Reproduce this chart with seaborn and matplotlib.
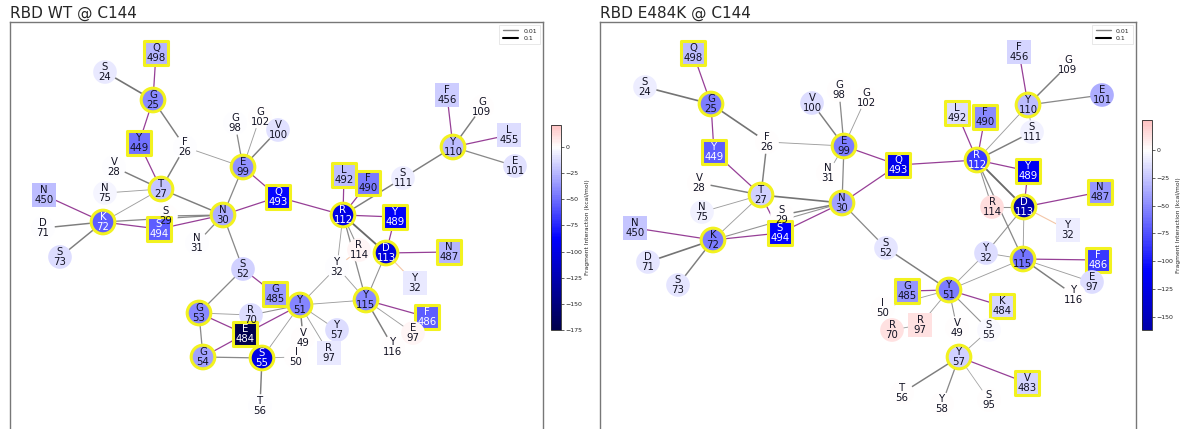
import re
import numpy as np
import pandas as pd
import matplotlib
matplotlib.use("Agg")
import matplotlib.pyplot as plt
from matplotlib.colors import Normalize, ListedColormap
from matplotlib.cm import ScalarMappable
from matplotlib.lines import Line2D
import seaborn as sns

# ---------------- RBD WT @ C144 ----------------
wt_res = ["Q498", "S24", "G25", "Y449", "F26", "G98", "G102", "V100", "E99", "V28",
          "T27", "N75", "N450", "Q493", "N30", "K72", "S29", "S494", "D71", "S73",
          "N31", "S52", "G485", "G53", "R70", "E484", "G54", "S55", "T56", "Y51",
          "V49", "I50", "Y57", "R97", "R112", "Y489", "R114", "D113", "N487", "Y32",
          "Y32L", "Y115", "F486", "E97", "Y116", "F456", "G109", "L455", "Y110", "E101",
          "S111", "L492", "F490"]
wt_energy = [-25, -8, -40, -48, -1, -1, 0, -10, -38, -1,
             -20, -3, -22, -85, -28, -55, 0, -55, -1, -12,
             -1, -15, -35, -40, -12, -175, -32, -100, -1, -42,
             0, 0, -12, -8, -100, -90, 4, -105, -25, -1,
             -8, -40, -55, 3, 0, -18, 0, -12, -22, -10,
             -6, -22, -46]
# layout of the network (pixel-like layout coordinates)
wt_x = [156, 105, 153, 139, 185, 235, 260, 278, 243, 114,
        161, 105, 44, 278, 223, 103, 166, 159, 43, 60,
        197, 243, 275, 199, 251, 245, 203, 262, 260, 300,
        303, 296, 337, 329, 343, 395, 359, 386, 449, 337,
        415, 366, 427, 413, 393, 447, 482, 509, 453, 515,
        403, 344, 368]
wt_y = [53, 72, 100, 143, 147, 123, 117, 130, 167, 167,
        189, 193, 195, 197, 215, 222, 216, 229, 228, 257,
        243, 269, 294, 313, 315, 334, 357, 358, 406, 305,
        338, 357, 330, 353, 215, 217, 250, 253, 252, 267,
        283, 300, 317, 333, 347, 95, 107, 135, 147, 166,
        178, 175, 183]
wt_interface = ["Q498", "G25", "Y449", "E99", "T27", "Q493", "N30", "K72", "S494",
                "G485", "G53", "E484", "G54", "S55", "Y51", "R112", "Y489", "D113",
                "N487", "Y115", "F486", "Y110", "L492", "F490"]
wt_square = ["Q498", "Y449", "N450", "Q493", "S494", "G485", "E484", "R97", "Y489",
             "N487", "Y32L", "F486", "F456", "L455", "L492", "F490"]
wt_edges = [("Q498", "G25", .02), ("S24", "G25", .05), ("G25", "Y449", .02),
            ("G25", "F26", .04), ("Y449", "T27", .02), ("F26", "T27", .04),
            ("F26", "E99", .01), ("V28", "T27", .04), ("N75", "T27", .01),
            ("T27", "K72", .01), ("T27", "N30", .04), ("N450", "K72", .02),
            ("D71", "K72", .04), ("S73", "K72", .04), ("K72", "S494", .02),
            ("K72", "N30", .03), ("S29", "N30", .03), ("S494", "N30", .02),
            ("N31", "N30", .03), ("N30", "E99", .03), ("N30", "Q493", .02),
            ("N30", "S52", .03), ("G98", "E99", .03), ("G102", "E99", .01),
            ("V100", "E99", .04), ("E99", "Q493", .02), ("Q493", "R112", .02),
            ("R112", "L492", .02), ("R112", "F490", .02), ("R112", "S111", .04),
            ("S111", "Y110", .04), ("Y110", "F456", .02), ("Y110", "G109", .04),
            ("Y110", "L455", .02), ("Y110", "E101", .03), ("R112", "Y489", .02),
            ("R112", "D113", .06), ("R112", "R114", .02), ("R112", "Y32", .01),
            ("R112", "Y115", .03), ("Y489", "D113", .02), ("D113", "N487", .02),
            ("D113", "Y115", .02), ("Y32", "Y115", .01), ("Y32", "Y51", .01),
            ("Y115", "Y51", .01), ("Y115", "F486", .02), ("Y115", "E97", .01),
            ("Y115", "Y116", .04), ("S52", "G53", .03), ("S52", "G485", .03),
            ("G485", "Y51", .02), ("G53", "R70", .01), ("G53", "E484", .02),
            ("G53", "G54", .03), ("G54", "E484", .02), ("G54", "S55", .03),
            ("E484", "Y51", .02), ("R70", "Y51", .02), ("S55", "Y51", .01),
            ("S55", "T56", .04), ("S55", "I50", .01), ("Y51", "V49", .04),
            ("Y51", "Y57", .01), ("Y51", "R97", .01)]
wt_repulsive = [("D113", "Y32L"), ("R114", "Y32")]

# ---------------- RBD E484K @ C144 ----------------
mut_res = ["Q498", "S24", "G25", "Y449", "F26", "V100", "G98", "G102", "E99", "N31",
           "V28", "T27", "N30", "N75", "N450", "K72", "S29", "S494", "D71", "S73",
           "S52", "Q493", "R112", "L492", "F490", "S111", "Y110", "F456", "G109", "E101",
           "Y489", "N487", "R114", "D113", "Y32L", "Y32", "Y115", "F486", "E97", "Y116",
           "G485", "Y51", "K484", "I50", "R70", "R97", "V49", "S55", "Y57", "V483",
           "T56", "Y58", "S95"]
mut_energy = [-28, -8, -55, -70, 0, -15, 0, 0, -55, 0,
              0, -20, -40, -6, -25, -55, 0, -110, -12, -12,
              -12, -120, -85, -15, -50, -6, -28, -18, 0, -35,
              -115, -45, 15, -160, -8, -14, -60, -85, -15, 0,
              -45, -55, -18, 0, 12, 12, 0, -3, -20, -18,
              0, 0, 0]
mut_x = [693, 645, 711, 714, 767, 812, 839, 866, 844, 828,
         699, 761, 842, 702, 635, 713, 782, 780, 648, 678,
         886, 898, 977, 957, 985, 1032, 1028, 1019, 1068, 1102,
         1028, 1100, 992, 1024, 1068, 986, 1023, 1098, 1092, 1074,
         907, 949, 1002, 883, 892, 920, 957, 989, 959, 1027,
         902, 942, 989]
mut_y = [53, 87, 104, 152, 142, 103, 90, 98, 146, 173,
         183, 195, 203, 212, 228, 240, 215, 233, 262, 285,
         248, 165, 160, 113, 117, 132, 105, 52, 65, 95,
         171, 192, 207, 207, 230, 253, 259, 260, 282, 295,
         291, 290, 306, 308, 330, 325, 328, 330, 357, 383,
         393, 404, 400]
mut_interface = ["Q498", "G25", "Y449", "E99", "T27", "N30", "K72", "S494", "Q493",
                 "R112", "L492", "F490", "Y110", "Y489", "N487", "D113", "Y115",
                 "F486", "G485", "Y51", "K484", "Y57", "V483"]
mut_square = ["Q498", "Y449", "N450", "S494", "Q493", "L492", "F490", "F456", "Y489",
              "N487", "Y32L", "F486", "G485", "K484", "R97", "V483"]
mut_edges = [("Q498", "G25", .02), ("S24", "G25", .05), ("G25", "Y449", .02),
             ("G25", "F26", .05), ("F26", "E99", .01), ("F26", "T27", .04),
             ("Y449", "T27", .02), ("V28", "T27", .04), ("N75", "T27", .01),
             ("T27", "N30", .05), ("T27", "K72", .01), ("T27", "S494", .02),
             ("N450", "K72", .02), ("D71", "K72", .05), ("S73", "K72", .04),
             ("K72", "S494", .02), ("K72", "N30", .02), ("S29", "N30", .04),
             ("S494", "N30", .02), ("N30", "E99", .03), ("N31", "E99", .01),
             ("N30", "Q493", .02), ("N30", "S52", .03), ("V100", "E99", .04),
             ("G98", "E99", .03), ("G102", "E99", .01), ("E99", "Q493", .02),
             ("Q493", "R112", .02), ("R112", "L492", .02), ("R112", "F490", .02),
             ("R112", "Y110", .01), ("R112", "S111", .04), ("R112", "Y489", .02),
             ("R112", "D113", .06), ("R112", "R114", .02), ("R112", "Y115", .03),
             ("Y110", "F456", .02), ("Y110", "G109", .04), ("Y110", "E101", .03),
             ("Y110", "S111", .01), ("Y489", "D113", .02), ("D113", "N487", .02),
             ("D113", "R114", .02), ("D113", "Y115", .01), ("D113", "Y32", .02),
             ("Y32", "Y115", .01), ("Y32", "Y51", .01), ("Y115", "F486", .02),
             ("Y115", "E97", .01), ("Y115", "Y116", .04), ("Y115", "Y51", .01),
             ("S52", "Y51", .04), ("G485", "Y51", .02), ("I50", "Y51", .01),
             ("R97", "Y51", .01), ("V49", "Y51", .02), ("S55", "Y51", .02),
             ("K484", "Y51", .02), ("R70", "R97", .01), ("Y57", "S55", .01),
             ("Y57", "T56", .04), ("Y57", "Y58", .03), ("Y57", "V483", .02),
             ("Y57", "S95", .005)]
mut_repulsive = [("D113", "Y32L")]

W, H = 1181, 429
sns.set_theme(style="white")
plt.rcParams["font.family"] = ["DejaVu Sans"]


def resnum(r):
    return int(re.findall(r"\d+", r)[0])


def reslabel(r):
    m = re.match(r"([A-Z])(\d+)", r)
    return m.group(1) + "\n" + m.group(2)


def panel(fig, ax_rect, cax_rect, title, res, energy, xs, ys, interface, square,
          edges, repulsive, lim, lo, hi, ticks):
    ax = fig.add_axes(ax_rect)
    cax = fig.add_axes(cax_rect)
    full = plt.get_cmap("seismic")
    cmap = ListedColormap(full(np.linspace((lo + lim) / (2 * lim), (hi + lim) / (2 * lim), 256)))
    norm = Normalize(lo, hi)

    df = pd.DataFrame({"res": res, "energy": energy, "x": xs, "y": ys})
    df["shape"] = np.where(df["res"].isin(square), "sq", "ci")
    df["ring"] = df["res"].isin(interface)
    pos = {r: (x, y) for r, x, y in zip(df["res"], df["x"], df["y"])}

    # edges: purple = antibody-RBD, grey = within antibody (width ~ weight)
    for a, b, w in edges:
        (x1, y1), (x2, y2) = pos[a], pos[b]
        if resnum(a) >= 400 or resnum(b) >= 400:
            ax.plot([x1, x2], [y1, y2], color="#8b2a8b", lw=0.9, alpha=0.9, zorder=1)
        else:
            shade = max(0.15, 0.62 - 4.5 * w)
            ax.plot([x1, x2], [y1, y2], color=str(shade), lw=0.5 + 14 * w, alpha=0.9, zorder=1)
    for a, b in repulsive:
        (x1, y1), (x2, y2) = pos[a], pos[b]
        ax.plot([x1, x2], [y1, y2], color="#f3c6a8", lw=0.8, zorder=1)

    edgecol = [(0.95, 0.95, 0.12, 1) if r else (0, 0, 0, 0) for r in df["ring"]]
    lws = [2.2 if r else 0 for r in df["ring"]]
    sns.scatterplot(data=df, x="x", y="y", hue="energy", palette=cmap, hue_norm=norm,
                    style="shape", markers={"sq": "s", "ci": "o"}, s=290,
                    edgecolor=edgecol, linewidth=lws, legend=False, ax=ax, zorder=3)

    for r, e, x, y in zip(df["res"], df["energy"], df["x"], df["y"]):
        frac = (e + lim) / (2 * lim)
        tc = "white" if frac < 0.36 else "#111122"
        ax.text(x, y, reslabel(r), ha="center", va="center", fontsize=7.3,
                color=tc, linespacing=1.0, zorder=4)

    x0 = ax_rect[0] * W
    x1 = (ax_rect[0] + ax_rect[2]) * W
    ytop = H - (ax_rect[1] + ax_rect[3]) * H
    ybot = H - ax_rect[1] * H
    ax.set_xlim(x0, x1)
    ax.set_ylim(ybot, ytop)
    ax.set_xticks([])
    ax.set_yticks([])
    ax.set_xlabel("")
    ax.set_ylabel("")
    for sp in ax.spines.values():
        sp.set_color("#777777")
        sp.set_linewidth(1.0)
    ax.set_title(title, loc="left", fontsize=11, pad=3)

    handles = [Line2D([], [], color="grey", lw=1.0, label="0.01"),
               Line2D([], [], color="black", lw=1.5, label="0.1")]
    leg = ax.legend(handles=handles, loc="upper right", fontsize=4.5, handlelength=2.5,
                    borderpad=0.5, labelspacing=0.3, frameon=True, fancybox=False)
    leg.get_frame().set_edgecolor("#dddddd")
    leg.get_frame().set_linewidth(0.6)

    cb = fig.colorbar(ScalarMappable(norm=norm, cmap=cmap), cax=cax, ticks=ticks)
    cb.outline.set_linewidth(0.6)
    cb.ax.tick_params(labelsize=4.5, length=2, width=0.5, pad=1)
    cb.set_label("Fragment Interaction (kcal/mol)", fontsize=4.3, labelpad=2)
    return ax


fig = plt.figure(figsize=(W / 100, H / 100), dpi=100)

panel(fig, [10 / W, -2 / H, 533 / W, 409 / H], [551 / W, 99 / H, 10 / W, 205 / H],
      "RBD WT @ C144", wt_res, wt_energy, wt_x, wt_y, wt_interface, wt_square,
      wt_edges, wt_repulsive, 175, -175, 21, [0, -25, -50, -75, -100, -125, -150, -175])

panel(fig, [600 / W, -2 / H, 536 / W, 409 / H], [1142 / W, 99 / H, 10 / W, 210 / H],
      "RBD E484K @ C144", mut_res, mut_energy, mut_x, mut_y, mut_interface, mut_square,
      mut_edges, mut_repulsive, 220, -162, 27, [0, -25, -50, -75, -100, -125, -150])

fig.savefig("out.png", dpi=100)
plt.close(fig)
